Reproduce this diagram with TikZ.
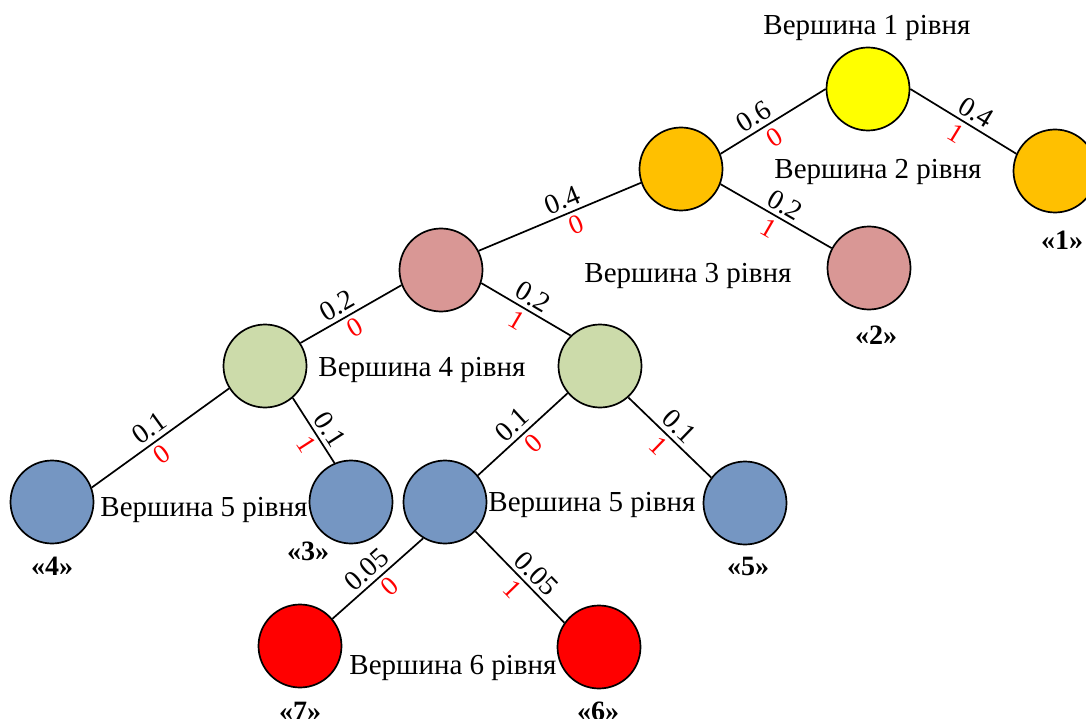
\documentclass[tikz,border=0pt]{standalone}
\usepackage{fontspec}
\setmainfont{Liberation Serif}
\definecolor{cyellow}{HTML}{FFFF00}
\definecolor{corange}{HTML}{FFC000}
\definecolor{cpink}{HTML}{D99795}
\definecolor{cgreen}{HTML}{CCDBAA}
\definecolor{cblue}{HTML}{7596C2}
\definecolor{cred}{HTML}{FF0000}
\begin{document}
\begin{tikzpicture}[x=1pt,y=-1pt,
  vert/.style={circle,draw=black,line width=1.7pt,minimum size=83pt,inner sep=0pt,fill=#1},
  edge/.style={line width=1.7pt},
  prob/.style={sloped,above,inner sep=4pt,font=\fontsize{28}{30}\selectfont},
  bit/.style={sloped,below,inner sep=4pt,text=cred,font=\fontsize{27}{29}\selectfont},
  lvl/.style={inner sep=0pt,font=\fontsize{29}{32}\selectfont},
  leaf/.style={inner sep=0pt,font=\fontsize{28}{30}\selectfont\bfseries}]
\useasboundingbox (0,0) rectangle (1086,719);
% vertices
\node[vert=cyellow] (r)   at (868,89)  {};
\node[vert=corange] (a)   at (681,169) {};
\node[vert=corange] (b)   at (1055,171) {};
\node[vert=cpink]   (c)   at (441,270) {};
\node[vert=cpink]   (d)   at (869,268) {};
\node[vert=cgreen]  (e)   at (265,366) {};
\node[vert=cgreen]  (f)   at (600,366) {};
\node[vert=cblue]   (g)   at (52,502)  {};
\node[vert=cblue]   (h)   at (351,502) {};
\node[vert=cblue]   (i)   at (445,502) {};
\node[vert=cblue]   (j)   at (745,503) {};
\node[vert=cred]    (k)   at (300,646) {};
\node[vert=cred]    (l)   at (599,647) {};
% edges with probabilities and code bits
\draw[edge] (a.21) -- node[prob,pos=0.39]{0.6} node[bit,pos=0.44]{0} (r.180);
\draw[edge] (r.0) -- node[prob,pos=0.55]{0.4} node[bit,pos=0.5]{1} (b.156);
\draw[edge] (c.27) -- node[prob,pos=0.55]{0.4} node[bit,pos=0.57]{0} (a.199);
\draw[edge] (a.-21) -- node[prob,pos=0.52]{0.2} node[bit,pos=0.5]{1} (d.152);
\draw[edge] (c.201) -- node[prob,pos=0.57]{0.2} node[bit,pos=0.53]{0} (e.33);
\draw[edge] (c.-18) -- node[prob,pos=0.5]{0.2} node[bit,pos=0.48]{1} (f.134);
\draw[edge] (e.212) -- node[prob,pos=0.52]{0.1} node[bit,pos=0.55]{0} (g.20);
\draw[edge] (e.-49) -- node[prob,pos=0.6]{0.1} node[bit,pos=0.6]{1} (h.113);
\draw[edge] (f.220) -- node[prob,pos=0.51]{0.1} node[bit,pos=0.48]{0} (i.39);
\draw[edge] (f.-48) -- node[prob,pos=0.49]{0.1} node[bit,pos=0.48]{1} (j.143);
\draw[edge] (i.239) -- node[prob,pos=0.52]{0.05} node[bit,pos=0.47]{0} (k.40);
\draw[edge] (i.-44) -- node[prob,pos=0.57]{0.05} node[bit,pos=0.53]{1} (l.145);
% level captions
\node[lvl] (t1) at (867,28)  {Вершина 1 рівня};
\node[lvl] (t2) at (878,172) {Вершина 2 рівня};
\node[lvl] (t3) at (688,276) {Вершина 3 рівня};
\node[lvl] (t4) at (422,370) {Вершина 4 рівня};
\node[lvl] (t5) at (204,510) {Вершина 5 рівня};
\node[lvl] (t6) at (592,505) {Вершина 5 рівня};
\node[lvl] (t7) at (453,668) {Вершина 6 рівня};
% leaf numbers
\node[leaf] (n1) at (1062,240) {«1»};
\node[leaf] (n2) at (876,335)  {«2»};
\node[leaf] (n3) at (308,551)  {«3»};
\node[leaf] (n4) at (52,566)   {«4»};
\node[leaf] (n5) at (748,566)  {«5»};
\node[leaf] (n6) at (598,711)  {«6»};
\node[leaf] (n7) at (300,711)  {«7»};
\end{tikzpicture}
\end{document}
